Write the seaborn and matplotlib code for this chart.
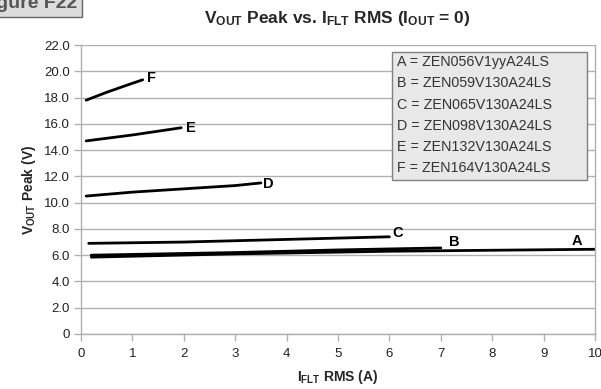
import matplotlib
matplotlib.use("Agg")
import matplotlib.pyplot as plt
from matplotlib.patches import Rectangle
import seaborn as sns
import pandas as pd

series_names = ["A", "B", "C", "D", "E", "F"]
legend_labels = ["A = ZEN056V1yyA24LS", "B = ZEN059V130A24LS", "C = ZEN065V130A24LS",
                 "D = ZEN098V130A24LS", "E = ZEN132V130A24LS", "F = ZEN164V130A24LS"]
x_A = [0.2, 3, 6, 10];           y_A = [5.85, 6.1, 6.3, 6.45]
x_B = [0.2, 3, 5, 7];            y_B = [6.0, 6.2, 6.4, 6.55]
x_C = [0.15, 2, 4, 6];           y_C = [6.9, 7.0, 7.2, 7.4]
x_D = [0.1, 1, 2, 3, 3.5];       y_D = [10.5, 10.8, 11.05, 11.3, 11.5]
x_E = [0.1, 1, 1.95];            y_E = [14.7, 15.15, 15.7]
x_F = [0.1, 0.5, 0.9, 1.2];      y_F = [17.8, 18.4, 18.95, 19.35]
x_ticks = list(range(0, 11))
y_ticks = [0, 2, 4, 6, 8, 10, 12, 14, 16, 18, 20, 22]

xs = [x_A, x_B, x_C, x_D, x_E, x_F]
ys = [y_A, y_B, y_C, y_D, y_E, y_F]
rows = []
for n, xv, yv in zip(series_names, xs, ys):
    for a, b in zip(xv, yv):
        rows.append({"series": n, "x": a, "y": b})
df = pd.DataFrame(rows)

sns.set_theme(style="white")
plt.rcParams['font.family'] = ['Liberation Sans', 'DejaVu Sans']
plt.rcParams['mathtext.fontset'] = 'custom'
plt.rcParams['mathtext.rm'] = 'Liberation Sans:bold'
plt.rcParams['mathtext.bf'] = 'Liberation Sans:bold'
plt.rcParams['mathtext.it'] = 'Liberation Sans:bold'

fig = plt.figure(figsize=(6.01, 3.89), dpi=100)
ax = fig.add_axes([81/601, 1-334/389, (595-81)/601, (334-45)/389])

sns.lineplot(data=df, x="x", y="y", hue="series", palette=["black"]*6,
             linewidth=2, legend=False, ax=ax, estimator=None, sort=True)

ax.set_xlim(0, 10)
ax.set_ylim(0, 22)
ax.set_xticks(x_ticks)
ax.set_xticklabels([str(t) for t in x_ticks])
ax.set_yticks(y_ticks)
ax.set_yticklabels(["0"] + [f"{t:.1f}" for t in y_ticks[1:]])
ax.yaxis.grid(True, color="#b0b0b0", linewidth=1)
ax.xaxis.grid(False)
for s in ["left", "bottom", "right"]:
    ax.spines[s].set_color("#b0b0b0")
    ax.spines[s].set_linewidth(1)
ax.spines["top"].set_visible(False)
ax.tick_params(axis="both", which="both", direction="out", length=5, width=1,
               color="#b0b0b0", labelsize=9.5, labelcolor="#222222", pad=3)
ax.tick_params(axis="x", bottom=True, pad=5)
ax.tick_params(axis="y", left=True)

label_off = {"A": (-0.45, 0.65), "B": (0.15, 0.45), "C": (0.05, 0.3),
             "D": (0.05, -0.05), "E": (0.1, -0.05), "F": (0.08, 0.1)}
for n, xv, yv in zip(series_names, xs, ys):
    dx, dy = label_off[n]
    ax.text(xv[-1] + dx, yv[-1] + dy, n, fontsize=10.5, fontweight="bold",
            ha="left", va="center", color="black")

# legend box
x0 = (392 - 81) / 514; x1 = (587 - 81) / 514
y1 = (334 - 52) / 289; y0 = (334 - 180) / 289
ax.add_patch(Rectangle((x0, y0), x1 - x0, y1 - y0, transform=ax.transAxes,
                       facecolor="#e8e8e8", edgecolor="#808080", linewidth=1, zorder=4))
ax.text((397 - 81) / 514, (334 - 55) / 289, "\n".join(legend_labels), transform=ax.transAxes,
        ha="left", va="top", fontsize=10.3, color="#333333", linespacing=1.66, zorder=5)

ax.set_xlabel(r"$\mathrm{I_{FLT}}$ RMS (A)", fontsize=10, fontweight="bold", labelpad=6)
ax.set_ylabel(r"$\mathrm{V_{OUT}}$ Peak (V)", fontsize=10, fontweight="bold", labelpad=4)
fig.text(337/601, 1-18/389, r"$\mathrm{V_{OUT}}$ Peak vs. $\mathrm{I_{FLT}}$ RMS ($\mathrm{I_{OUT}}$ = 0)",
         ha="center", va="center", fontsize=12.5, fontweight="bold")
fig.text(-0.035, 1-4/389, "Figure F22", ha="left", va="center", fontsize=14,
         fontweight="bold", color="#555555",
         bbox=dict(boxstyle="square,pad=0.25", facecolor="#dcdcdc", edgecolor="#666666"))

fig.savefig("out.png", dpi=100)
